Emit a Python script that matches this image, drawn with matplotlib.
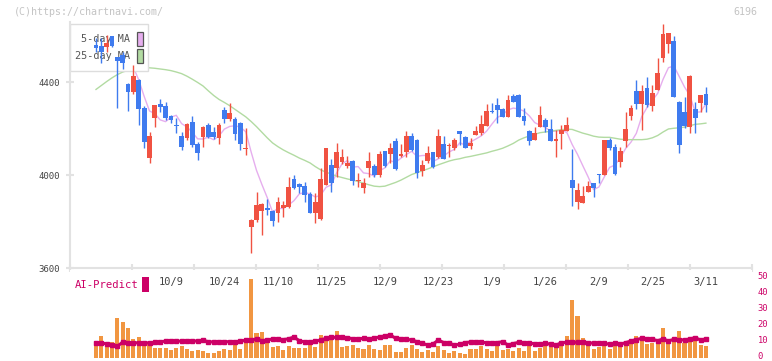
import numpy as np
import pandas as pd
import matplotlib
matplotlib.use("Agg")
import matplotlib.pyplot as plt
from matplotlib.patches import Rectangle
from matplotlib.transforms import blended_transform_factory, offset_copy


# daily candles (oldest first), ticker 6196
opens = [4559, 4555, 4549, 4598, 4506, 4516, 4391, 4358, 4409, 4287,
         4072, 4247, 4305, 4297, 4254, 4215, 4168, 4158, 4229, 4133,
         4165, 4215, 4186, 4158, 4280, 4241, 4241, 4225, 4110, 3775,
         3806, 3847, 3857, 3845, 3838, 3857, 3864, 3981, 3961, 3953,
         3918, 3835, 3811, 3958, 4043, 4029, 4057, 4040, 4060, 3974,
         3945, 4031, 4039, 3999, 4103, 4090, 4146, 4082, 4100, 4168,
         4151, 4019, 4062, 4098, 4079, 4133, 4126, 4115, 4189, 4165,
         4126, 4172, 4179, 4211, 4277, 4301, 4282, 4251, 4340, 4344,
         4254, 4189, 4151, 4208, 4237, 4196, 4148, 4176, 4191, 3978,
         3885, 3881, 3928, 3964, 4001, 4000, 4151, 4122, 4057, 4148,
         4254, 4361, 4305, 4373, 4297, 4366, 4505, 4563, 4576, 4315,
         4271, 4205, 4282, 4311, 4348]
highs = [4590, 4588, 4602, 4600, 4509, 4530, 4395, 4473, 4415, 4297,
         4186, 4301, 4325, 4315, 4258, 4244, 4186, 4222, 4254, 4140,
         4211, 4225, 4205, 4222, 4294, 4311, 4251, 4230, 4201, 3810,
         3925, 3880, 3897, 3850, 3907, 3890, 3993, 4000, 3967, 3968,
         3928, 3921, 4029, 4116, 4067, 4139, 4112, 4082, 4064, 4007,
         3986, 4098, 4046, 4103, 4105, 4136, 4158, 4133, 4189, 4179,
         4155, 4065, 4125, 4100, 4198, 4168, 4136, 4158, 4190, 4168,
         4158, 4211, 4258, 4304, 4308, 4330, 4287, 4344, 4348, 4348,
         4287, 4194, 4205, 4297, 4244, 4240, 4194, 4215, 4248, 4112,
         3964, 3953, 3974, 3965, 4004, 4151, 4158, 4133, 4119, 4270,
         4301, 4409, 4387, 4420, 4387, 4502, 4650, 4612, 4598, 4318,
         4337, 4430, 4315, 4346, 4380]
lows = [4530, 4480, 4530, 4550, 4287, 4455, 4277, 4350, 4215, 4115,
        4053, 4208, 4272, 4237, 4222, 4179, 4108, 4151, 4120, 4064,
        4122, 4158, 4155, 4133, 4225, 4234, 4150, 4108, 4086, 3666,
        3800, 3742, 3828, 3782, 3799, 3818, 3860, 3938, 3924, 3885,
        3835, 3792, 3806, 3955, 3928, 3993, 4047, 4029, 3957, 3950,
        3924, 3993, 3993, 3993, 4036, 4050, 4020, 4076, 4079, 4105,
        3988, 3997, 4050, 4029, 4072, 4067, 4079, 4108, 4129, 4117,
        4112, 4170, 4172, 4210, 4265, 4225, 4248, 4250, 4313, 4250,
        4215, 4129, 4150, 4205, 4186, 4146, 4079, 4112, 4190, 3868,
        3854, 3880, 3927, 3907, 3964, 4000, 4108, 4000, 4036, 4119,
        4237, 4282, 4194, 4291, 4277, 4365, 4487, 4523, 4335, 4093,
        4201, 4179, 4182, 4272, 4272]
closes = [4545, 4530, 4569, 4555, 4492, 4483, 4358, 4426, 4282, 4143,
          4168, 4301, 4291, 4244, 4237, 4211, 4122, 4219, 4129, 4096,
          4208, 4162, 4162, 4215, 4241, 4265, 4176, 4133, 4114, 3806,
          3871, 3875, 3850, 3802, 3882, 3871, 3950, 3943, 3947, 3914,
          3838, 3885, 3983, 4116, 3967, 4100, 4076, 4053, 3974, 3978,
          3964, 4060, 4000, 4090, 4039, 4117, 4026, 4090, 4168, 4108,
          4010, 4043, 4093, 4036, 4168, 4070, 4128, 4151, 4176, 4118,
          4139, 4189, 4219, 4277, 4270, 4280, 4251, 4323, 4315, 4251,
          4234, 4148, 4179, 4258, 4205, 4148, 4155, 4194, 4215, 3945,
          3935, 3909, 3953, 3945, 3999, 4151, 4115, 4004, 4103, 4198,
          4287, 4305, 4361, 4301, 4351, 4440, 4607, 4609, 4337, 4129,
          4211, 4426, 4247, 4344, 4300]
ma25 = [4368, 4385, 4402, 4418, 4432, 4443, 4450, 4456, 4460, 4461,
        4461, 4459, 4456, 4453, 4449, 4443, 4436, 4425, 4412, 4398,
        4383, 4362, 4342, 4325, 4312, 4298, 4282, 4266, 4250, 4230,
        4208, 4184, 4160, 4138, 4122, 4108, 4096, 4085, 4073, 4063,
        4052, 4036, 4022, 4012, 4004, 3995, 3989, 3983, 3978, 3972,
        3965, 3958, 3952, 3950, 3952, 3960, 3968, 3978, 3990, 4002,
        4010, 4018, 4026, 4035, 4044, 4052, 4060, 4066, 4070, 4076,
        4080, 4085, 4090, 4095, 4102, 4108, 4115, 4125, 4136, 4150,
        4160, 4168, 4175, 4182, 4185, 4188, 4192, 4195, 4197, 4196,
        4188, 4180, 4174, 4167, 4163, 4162, 4162, 4158, 4154, 4152,
        4152, 4152, 4152, 4154, 4160, 4170, 4185, 4198, 4201, 4203,
        4206, 4212, 4218, 4220, 4223]

# lower panel (right scale 0-50)
volume = [8.75, 13.75, 7.1, 10.2, 24.8, 22.7, 18.5, 11.7, 13.3, 9.6,
          10.2, 6.5, 6.0, 6.0, 5.0, 6.0, 7.5, 5.6, 4.4, 5.0,
          4.4, 3.3, 3.3, 4.4, 5.6, 5.0, 8.1, 5.6, 10.2, 49.4,
          15.8, 16.5, 11.5, 7.1, 7.5, 5.0, 7.5, 6.2, 6.2, 6.2,
          8.9, 7.1, 14.4, 11.9, 14.4, 17.0, 7.1, 7.5, 8.1, 6.0,
          5.4, 8.1, 5.6, 5.0, 8.1, 8.1, 3.9, 3.9, 6.2, 8.1,
          5.6, 4.0, 5.0, 4.0, 7.5, 5.0, 3.2, 4.4, 3.3, 2.4,
          5.6, 5.6, 7.5, 5.6, 4.4, 9.0, 5.0, 5.6, 4.4, 6.1,
          4.4, 7.5, 4.4, 6.0, 8.1, 7.0, 8.6, 9.8, 13.75, 36.25,
          26.25, 12.3, 7.5, 5.6, 7.0, 9.6, 5.6, 7.5, 6.7, 10.6,
          10.2, 13.75, 11.7, 8.75, 9.6, 9.6, 18.6, 8.75, 11.7, 16.7,
          9.6, 10.2, 10.6, 8.1, 7.5]
ai_predict = [9.4, 9.2, 9.0, 8.1, 7.3, 10.0, 9.6, 9.6, 9.4, 9.6,
              9.4, 9.8, 10.0, 10.6, 10.8, 10.4, 10.6, 10.8, 10.4, 10.8,
              11.0, 10.2, 10.0, 10.2, 10.2, 10.2, 10.2, 10.4, 11.2, 11.5,
              11.7, 10.8, 11.2, 11.9, 11.7, 11.5, 12.0, 13.1, 10.8, 10.0,
              9.8, 10.6, 11.2, 12.3, 12.9, 12.9, 12.9, 12.7, 12.0, 11.9,
              12.3, 11.9, 12.5, 13.1, 13.8, 14.4, 12.3, 12.0, 11.7, 11.25,
              10.2, 9.2, 8.1, 8.75, 11.25, 9.6, 9.2, 8.1, 8.6, 9.6,
              10.0, 10.2, 9.8, 9.6, 9.2, 9.6, 10.2, 8.1, 9.0, 9.8,
              9.4, 9.2, 9.0, 8.6, 9.2, 8.6, 8.0, 9.6, 9.8, 9.8,
              9.8, 9.8, 9.6, 9.2, 9.2, 9.2, 8.6, 9.2, 8.6, 9.6,
              10.6, 11.5, 12.3, 12.0, 11.7, 10.8, 11.9, 10.6, 11.7, 11.5,
              11.25, 11.9, 12.7, 11.25, 11.9]

date_labels = ["10/9", "10/24", "11/10", "11/25", "12/9", "12/23",
               "1/9", "1/26", "2/9", "2/25", "3/11"]
date_label_idx = [14, 24, 34, 44, 54, 64, 74, 84, 94, 104, 114]
price_ticks = [3600, 4000, 4400]
ai_ticks = [0, 10, 20, 30, 40, 50]

W, H = 772, 361
RED = "#f05242"
BLUE = "#3f7bef"
ORANGE = "#f19641"
MAGENTA = "#cc0066"
MA5_COLOR = "#e6aeee"
MA25_COLOR = "#b2dba2"
AXIS_GRAY = "#e2e2e2"
TEXT_GRAY = "#444444"


def fx(px):
    return px / W


def fy(py):
    return 1 - py / H


def draw_legend(fig, ax):
    """Legend box drawn under the candles but above the MA lines."""
    tf = fig.transFigure
    box = Rectangle((fx(70), fy(71)), fx(148) - fx(70), fy(24) - fy(71),
                    transform=tf, facecolor="white", edgecolor="#dddddd",
                    linewidth=1, zorder=2, clip_on=False)
    ax.add_patch(box)
    for y_px, label, color in [(39, "5-day MA", MA5_COLOR), (56, "25-day MA", MA25_COLOR)]:
        ax.text(fx(130), fy(y_px), label, transform=tf, ha="right", va="center",
                fontsize=7.3, color="#555555", zorder=2.5)
        sw = Rectangle((fx(137), fy(y_px + 7)), fx(142.5) - fx(137), fy(y_px - 7) - fy(y_px + 7),
                       transform=tf, facecolor=color, edgecolor="#555555",
                       linewidth=0.9, zorder=2.5, clip_on=False)
        ax.add_patch(sw)


def plot_chart(out_path="out.png"):
    plt.rcParams["font.family"] = ["DejaVu Sans Mono"]
    fig = plt.figure(figsize=(W / 100, H / 100), dpi=100)
    x_lim = ((70 - 96) / 5.35, (752 - 96) / 5.35)

    # price panel
    ax = fig.add_axes([fx(70), fy(268), fx(752) - fx(70), fy(22) - fy(268)])
    idx = np.arange(len(closes))
    o = np.array(opens, dtype=float)
    c = np.array(closes, dtype=float)
    colors = np.where(c >= o, RED, BLUE)
    body_lo = np.minimum(o, c)
    body_h = np.maximum(np.abs(c - o), 4)

    ma5 = pd.Series(closes).rolling(5, min_periods=1).mean()
    ax.plot(idx, ma5, color=MA5_COLOR, linewidth=1, zorder=1)
    ax.plot(idx, ma25, color=MA25_COLOR, linewidth=1, zorder=1)

    ax.vlines(idx, lows, highs, colors=colors, linewidth=1, zorder=4)
    ax.bar(idx, body_h, bottom=body_lo, width=0.88, color=colors,
           linewidth=0, zorder=5)

    draw_legend(fig, ax)

    ax.set_xlim(x_lim)
    ax.set_ylim(3600, 3600 + (268 - 22) * 400 / 93)
    for side in ["top", "right"]:
        ax.spines[side].set_visible(False)
    for side in ["left", "bottom"]:
        ax.spines[side].set_color(AXIS_GRAY)
        ax.spines[side].set_linewidth(1.5)
    ax.set_yticks(price_ticks)
    ax.set_yticklabels([str(v) for v in price_ticks])
    ax.set_xticks(np.linspace(x_lim[0], x_lim[1], 12))
    ax.tick_params(axis="x", direction="inout", length=6, width=1.5,
                   color=AXIS_GRAY, labelbottom=False)
    ax.tick_params(axis="y", direction="inout", length=6, width=1.5,
                   color=AXIS_GRAY, labelsize=6.5, labelcolor=TEXT_GRAY, pad=4)

    # AI-Predict / volume panel
    ax2 = fig.add_axes([fx(70), fy(358), fx(752) - fx(70), fy(270) - fy(358)])
    ax2.bar(idx, volume, width=0.75, color=ORANGE, linewidth=0, zorder=1)
    ax2.plot(idx, ai_predict, color=MAGENTA, linewidth=2.2, marker="s",
             markersize=2.6, zorder=2)
    ax2.set_xlim(x_lim)
    ax2.set_ylim(0, 88 / 1.6)
    for s in ax2.spines.values():
        s.set_visible(False)
    ax2.set_xticks([])
    ax2.set_yticks([])

    # right-hand scale, nudged up slightly so the bottom "0" stays inside
    tr_right = offset_copy(blended_transform_factory(ax2.transAxes, ax2.transData),
                           fig=fig, x=4, y=1.0, units="points")
    for v in ai_ticks:
        ax2.text(1.0, v, str(v), transform=tr_right, ha="left", va="center",
                 fontsize=6.3, color=MAGENTA, clip_on=False)

    tr = blended_transform_factory(ax2.transData, fig.transFigure)
    for pos, lab in zip(date_label_idx, date_labels):
        ax2.text(pos, fy(282), lab, transform=tr, ha="center", va="center",
                 fontsize=7.5, color=TEXT_GRAY, zorder=3)

    fig.text(fx(75), fy(285), "AI-Predict", ha="left", va="center",
             fontsize=7.6, color=MAGENTA)
    fig.patches.append(Rectangle((fx(142), fy(292)), fx(149) - fx(142), fy(277) - fy(292),
                                 transform=fig.transFigure, facecolor=MAGENTA,
                                 edgecolor="none", figure=fig))

    fig.text(fx(14), fy(12), "(C)https://chartnavi.com/", ha="left", va="center",
             fontsize=7.2, color="#c4c4c4")
    fig.text(fx(757), fy(12), "6196", ha="right", va="center",
             fontsize=7.2, color="#c4c4c4")

    fig.savefig(out_path, dpi=100)
    plt.close(fig)
    return out_path


if __name__ == "__main__":
    plot_chart("out.png")
